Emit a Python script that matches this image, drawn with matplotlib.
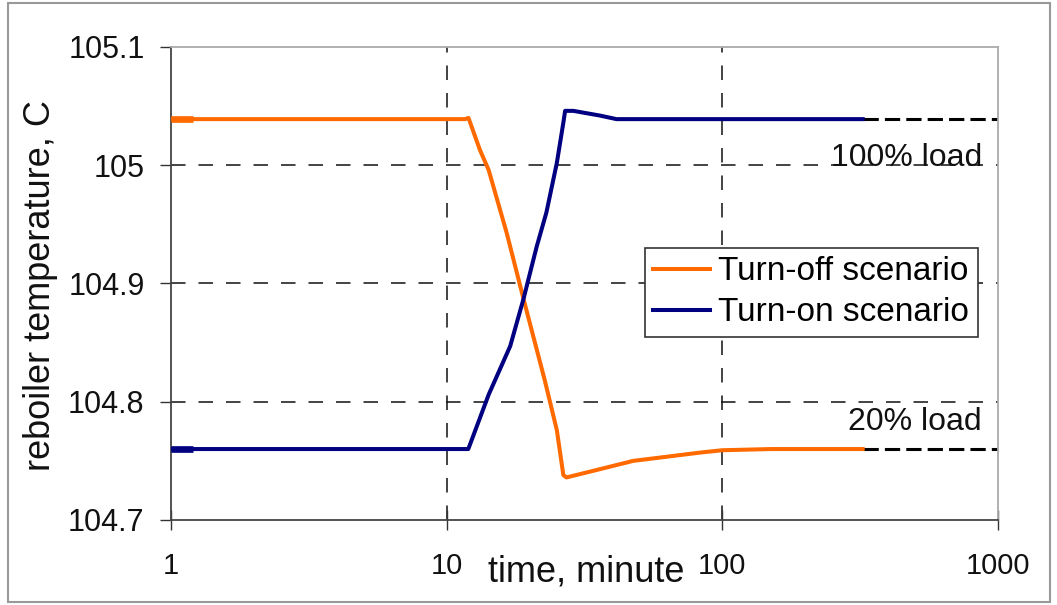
import matplotlib
matplotlib.use("Agg")
from matplotlib import pyplot as plt
from matplotlib.patches import Rectangle

plt.rcParams['font.family'] = ['Liberation Sans', 'DejaVu Sans']

# turn-off scenario (orange)
t_off = [1, 1.2, 11.65, 12.0, 13.2, 14.2, 16.5, 19.0, 22.7, 25.1, 26.5, 27.2,
         36, 47.5, 83, 100, 150, 323]
T_off = [105.039, 105.039, 105.039, 105.040, 105.013, 104.996, 104.943,
         104.887, 104.818, 104.776, 104.738, 104.736, 104.743, 104.750,
         104.757, 104.759, 104.760, 104.760]

# turn-on scenario (blue)
t_on = [1, 1.2, 11.98, 14.2, 17.0, 19.0, 21.2, 23.0, 25.1, 26.5, 26.9, 28.8,
        36, 41.3, 100, 323]
T_on = [104.760, 104.760, 104.760, 104.806, 104.847, 104.887, 104.931,
        104.960, 105.002, 105.036, 105.046, 105.046, 105.042, 105.039,
        105.039, 105.039]

# steady-state extensions to the right edge
t_ext = [323, 1000]
full_load = 105.039
low_load = 104.760

x_ticks = [1, 10, 100, 1000]
x_labels = ["1", "10", "100", "1000"]
y_ticks = [104.7, 104.8, 104.9, 105.0, 105.1]
y_labels = ["104.7", "104.8", "104.9", "105", "105.1"]

ORANGE = '#FF6A00'
NAVY = '#000080'

fig = plt.figure(figsize=(10.57, 6.05), dpi=100)
ax = fig.add_axes([171 / 1057, 1 - 520 / 605, 827 / 1057, 473 / 605])

ax.set_xscale('log')
ax.set_xlim(1, 1000)
ax.set_ylim(104.7, 105.1)

# dashed grid on the inner ticks only
for y in y_ticks[1:-1]:
    ax.axhline(y, color='#111111', lw=1.1, dashes=(9.5, 8.5), zorder=1)
for x in x_ticks[1:-1]:
    ax.axvline(x, color='#111111', lw=1.1, dashes=(9.5, 8.5), zorder=1)

ax.plot(t_ext, [full_load, full_load], color='black', lw=2.2, dashes=(5, 2), zorder=2)
ax.plot(t_ext, [low_load, low_load], color='black', lw=2.2, dashes=(5, 2), zorder=2)

ax.plot(t_off, T_off, color=ORANGE, lw=2.9, label='Turn-off scenario', zorder=3)
ax.plot(t_on, T_on, color=NAVY, lw=2.9, label='Turn-on scenario', zorder=3)
# thicker start segment seen at the left edge
ax.plot(t_off[:2], T_off[:2], color=ORANGE, lw=4.8, solid_capstyle='butt', zorder=3)
ax.plot(t_on[:2], T_on[:2], color=NAVY, lw=4.8, solid_capstyle='butt', zorder=3)

ax.text(875, 104.999, "100% load", ha='right', va='baseline', fontsize=23,
        color='#111111')
ax.text(870, 104.776, "20% load", ha='right', va='baseline', fontsize=23,
        color='#111111')

ax.set_xticks(x_ticks)
ax.set_xticklabels(x_labels)
ax.minorticks_off()
ax.set_yticks(y_ticks)
ax.set_yticklabels(y_labels)
ax.tick_params(axis='x', direction='inout', length=14, width=1, pad=16,
               labelsize=21, colors='#333333', labelcolor='#111111')
ax.tick_params(axis='y', direction='out', length=8, width=1, pad=11,
               labelsize=22, colors='#333333', labelcolor='#111111')

ax.spines['left'].set_color('#444444')
ax.spines['bottom'].set_color('#444444')
ax.spines['top'].set_color('#aaaaaa')
ax.spines['right'].set_color('#aaaaaa')
for s in ax.spines.values():
    s.set_linewidth(1.3)

leg = ax.legend(loc='upper left', bbox_to_anchor=(645 / 1057, 1 - 248 / 605),
                bbox_transform=fig.transFigure, fontsize=24, frameon=True,
                fancybox=False, framealpha=1, edgecolor='#333333',
                handlelength=1.7, handletextpad=0.25, labelspacing=0.3,
                borderpad=0.25, borderaxespad=0)
leg.get_frame().set_linewidth(1.2)

fig.text(586 / 1057, 1 - 572 / 605, "time, minute", ha='center', va='center',
         fontsize=26, color='#111111')
fig.text(41 / 1057, 1 - 286 / 605, "reboiler temperature, C", ha='center',
         va='center', rotation=90, fontsize=26, color='#111111')

# outer chart border
fig.patches.append(Rectangle((8 / 1057, 3 / 605), 1042 / 1057, 599 / 605,
                             transform=fig.transFigure, fill=False,
                             edgecolor='#999999', lw=1.5))

fig.savefig('out.png', dpi=100)
